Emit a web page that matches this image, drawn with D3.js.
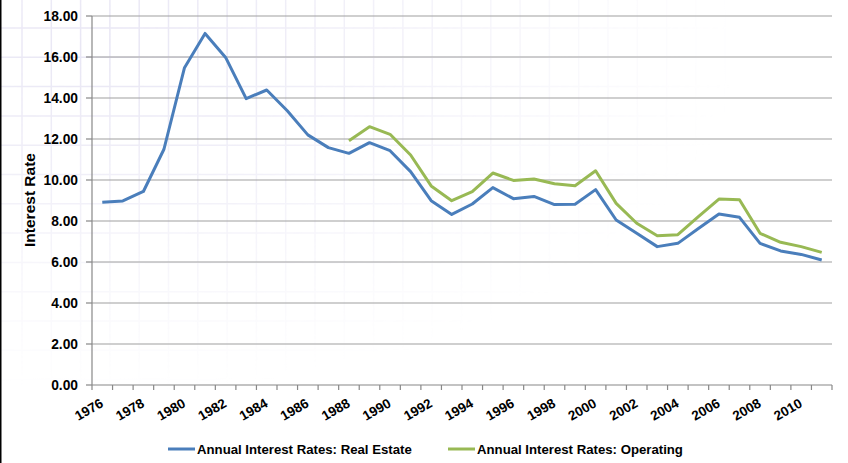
<!DOCTYPE html>
<html><head><meta charset="utf-8">
<script src="https://cdn.jsdelivr.net/npm/d3@7/dist/d3.min.js"></script>
<style>html,body{margin:0;padding:0;background:#fff;}svg{display:block;}</style>
</head><body><svg id="c" width="848" height="463"></svg>
<script>
const years = d3.range(1976, 2012);
const realEstate = [8.92, 8.98, 9.44, 11.5, 15.48, 17.15, 15.98, 13.97, 14.39, 13.38, 12.2, 11.58, 11.3, 11.82, 11.43, 10.41, 8.99, 8.32, 8.83, 9.63, 9.09, 9.2, 8.8, 8.82, 9.53, 8.05, 7.4, 6.75, 6.91, 7.63, 8.34, 8.18, 6.91, 6.54, 6.37, 6.1];
const operating = [null, null, null, null, null, null, null, null, null, null, null, null, 11.92, 12.6, 12.23, 11.22, 9.71, 8.99, 9.43, 10.34, 9.98, 10.05, 9.82, 9.72, 10.45, 8.86, 7.89, 7.28, 7.33, 8.21, 9.07, 9.04, 7.4, 6.96, 6.75, 6.47];
const yTicks = [0, 2, 4, 6, 8, 10, 12, 14, 16, 18];
const seriesNames = ["Annual Interest Rates: Real Estate", "Annual Interest Rates: Operating"];
const colors = ["#4A7EBB", "#98B954"];

const svg = d3.select("#c");
const L = 92, R = 832, T = 16, B = 385;
const x = d3.scaleBand().domain(years).range([L, R]).paddingInner(0).paddingOuter(0);
const y = d3.scaleLinear().domain([0, 18]).range([B, T]);
const cx = d => x(d) + x.bandwidth() / 2;
const FONT = "'Liberation Sans', Arial, sans-serif";

// faint background graph-paper watermark
const defs = svg.append("defs");
const grad = defs.append("radialGradient").attr("id", "fade").attr("cx", "0.12").attr("cy", "0.1").attr("r", "0.75");
grad.append("stop").attr("offset", "0").attr("stop-color", "#fff").attr("stop-opacity", 1);
grad.append("stop").attr("offset", "1").attr("stop-color", "#fff").attr("stop-opacity", 0);
defs.append("mask").attr("id", "m").append("rect").attr("width", 848).attr("height", 463).attr("fill", "url(#fade)");
const bg = svg.append("g").attr("mask", "url(#m)").attr("stroke", "#e8e6f4").attr("stroke-width", 1.5);
for (let gx = 22; gx < 848; gx += 29.3) bg.append("line").attr("x1", gx).attr("x2", gx).attr("y1", 0).attr("y2", 463);
for (let gy = 28; gy < 463; gy += 29.3) bg.append("line").attr("y1", gy).attr("y2", gy).attr("x1", 0).attr("x2", 848);

// gridlines
svg.append("g").selectAll("line").data(yTicks.filter(d => d > 0)).join("line")
  .attr("x1", L).attr("x2", R).attr("y1", d => y(d)).attr("y2", d => y(d))
  .attr("stroke", "#a0a0a0").attr("stroke-width", 1.2);

// axes lines
svg.append("line").attr("x1", L).attr("x2", L).attr("y1", T).attr("y2", B).attr("stroke", "#888").attr("stroke-width", 1.2);
svg.append("line").attr("x1", L).attr("x2", R).attr("y1", B).attr("y2", B).attr("stroke", "#888").attr("stroke-width", 1.2);

// y ticks + labels
svg.append("g").selectAll("line").data(yTicks).join("line")
  .attr("x1", L - 6).attr("x2", L).attr("y1", d => y(d)).attr("y2", d => y(d))
  .attr("stroke", "#888").attr("stroke-width", 1.2);
svg.append("g").selectAll("text").data(yTicks).join("text")
  .attr("x", 78).attr("y", d => y(d)).attr("dy", "0.36em")
  .attr("text-anchor", "end")
  .style("font-family", FONT).style("font-weight", "bold")
  .style("font-size", "13.8px").attr("fill", "#000")
  .text(d => d3.format(".2f")(d));

// x ticks at category boundaries
const bounds = years.map(d => x(d)).concat([R]);
svg.append("g").selectAll("line").data(bounds).join("line")
  .attr("x1", d => d).attr("x2", d => d).attr("y1", B).attr("y2", B + 5)
  .attr("stroke", "#888").attr("stroke-width", 1.2);
svg.append("g").selectAll("text").data(years.filter((d, i) => i % 2 === 0)).join("text")
  .attr("transform", d => `translate(${cx(d) + 2},${B + 21}) rotate(-30)`)
  .attr("text-anchor", "end")
  .style("font-family", FONT).style("font-weight", "bold")
  .style("font-size", "13.5px").attr("fill", "#000")
  .text(d => d);

// axis title
svg.append("text").attr("transform", "translate(35,200) rotate(-90)")
  .attr("text-anchor", "middle")
  .style("font-family", FONT).style("font-weight", "bold")
  .style("font-size", "15.5px").attr("fill", "#000").text("Interest Rate");

// lines
const line = d3.line().defined(d => d[1] != null).x(d => cx(d[0])).y(d => y(d[1]));
[realEstate, operating].forEach((s, i) => {
  svg.append("path").datum(years.map((yr, j) => [yr, s[j]]))
    .attr("d", line).attr("fill", "none").attr("stroke", colors[i])
    .attr("stroke-width", 3).attr("stroke-linejoin", "round");
});

// legend
const legX = [168, 448];
seriesNames.forEach((n, i) => {
  svg.append("line").attr("x1", legX[i]).attr("x2", legX[i] + 27).attr("y1", 449).attr("y2", 449)
    .attr("stroke", colors[i]).attr("stroke-width", 3);
  svg.append("text").attr("x", legX[i] + 29).attr("y", 454)
    .style("font-family", FONT).style("font-weight", "bold")
    .style("font-size", "13.2px").attr("fill", "#000").text(n);
});

// left black border
svg.append("line").attr("x1", 0.75).attr("x2", 0.75).attr("y1", 0).attr("y2", 463).attr("stroke", "#000").attr("stroke-width", 1.5);
</script></body></html>
